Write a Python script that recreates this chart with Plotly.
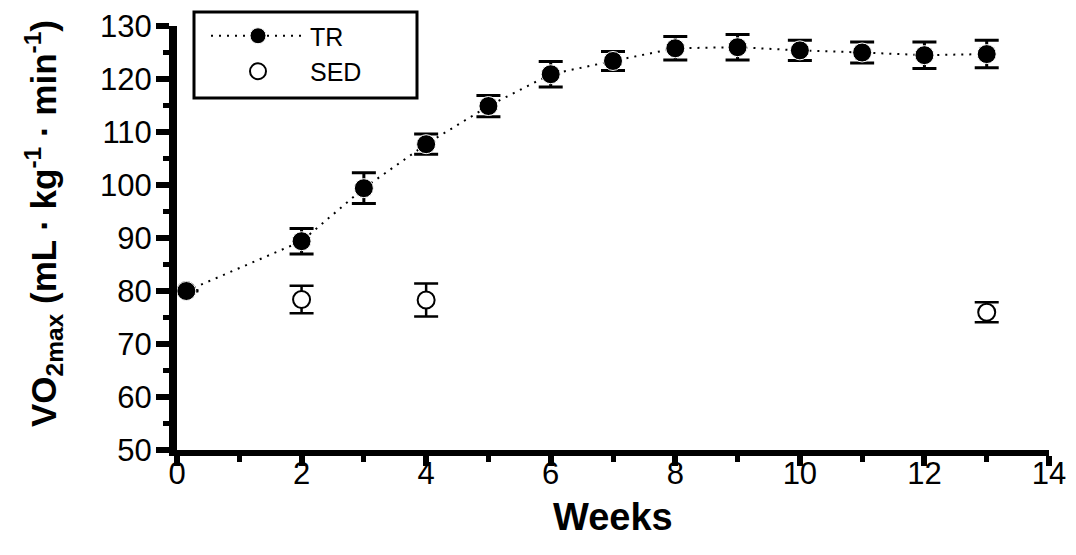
import plotly.graph_objects as go

# VO2max over a training programme, trained (TR) vs sedentary (SED) groups
tr_weeks = [0.15, 2, 3, 4, 5, 6, 7, 8, 9, 10, 11, 12, 13]
tr_vo2 = [80.0, 89.4, 99.4, 107.7, 114.9, 120.9, 123.4, 125.8, 126.0, 125.4, 125.0, 124.5, 124.7]
tr_sem = [None, 2.4, 2.9, 1.9, 2.0, 2.4, 1.8, 2.2, 2.4, 1.9, 2.0, 2.5, 2.6]

sed_weeks = [0.15, 2, 4, 13]
sed_vo2 = [80.1, 78.4, 78.3, 76.0]
sed_sem = [None, 2.6, 3.1, 1.9]

x_ticks = [0, 2, 4, 6, 8, 10, 12, 14]
y_ticks = [50, 60, 70, 80, 90, 100, 110, 120, 130]

FONT = "Liberation Sans, Arial, sans-serif"
L, R, T, B = 177, 27, 26, 105
W, H = 1076, 555
plot_w, plot_h = W - L - R, H - T - B


def px_to_paper_x(px):
    return (px - L) / plot_w


def px_to_paper_y(py):
    return (H - B - py) / plot_h


fig = go.Figure()

fig.add_trace(go.Scatter(
    x=sed_weeks, y=sed_vo2, name="SED", mode="markers",
    marker=dict(symbol="circle", size=17, color="white",
                line=dict(color="black", width=2)),
    error_y=dict(type="data", array=sed_sem, visible=True,
                 color="black", thickness=2.5, width=12),
    legendrank=2, cliponaxis=False,
))

fig.add_trace(go.Scatter(
    x=tr_weeks, y=tr_vo2, name="TR", mode="lines+markers",
    line=dict(color="black", width=2, dash="2px,6px"),
    marker=dict(symbol="circle", size=19, color="black",
                line=dict(color="white", width=1)),
    error_y=dict(type="data", array=tr_sem, visible=True,
                 color="black", thickness=3, width=12),
    legendrank=1, cliponaxis=False,
))

fig.update_layout(
    width=W, height=H,
    margin=dict(l=L, r=R, t=T, b=B),
    paper_bgcolor="white", plot_bgcolor="white",
    font=dict(family=FONT, color="black", size=30),
    showlegend=True,
    legend=dict(
        x=px_to_paper_x(206), y=px_to_paper_y(13),
        xanchor="left", yanchor="top",
        bgcolor="rgba(0,0,0,0)", borderwidth=0,
        font=dict(family=FONT, size=25, color="black"),
        itemwidth=94, tracegroupgap=0,
    ),
    shapes=[
        # frame around the legend
        dict(type="rect", xref="paper", yref="paper",
             x0=px_to_paper_x(194), x1=px_to_paper_x(417),
             y0=px_to_paper_y(98), y1=px_to_paper_y(12),
             line=dict(color="black", width=3), fillcolor="rgba(0,0,0,0)",
             layer="above"),
    ],
    annotations=[
        dict(text="<b>Weeks</b>", xref="paper", yref="paper",
             x=0.5, y=0, xanchor="center", yanchor="middle", yshift=-67,
             showarrow=False, font=dict(family=FONT, size=38, color="black")),
        dict(text="<b>VO<sub>2max</sub> (mL · kg<sup>-1</sup> · min<sup>-1</sup>)</b>",
             xref="paper", yref="paper", x=0, y=0.5,
             xanchor="center", yanchor="middle", xshift=-134, yshift=14,
             textangle=-90, showarrow=False,
             font=dict(family=FONT, size=35, color="black")),
    ],
)

fig.update_xaxes(
    range=[0, 14], tickvals=x_ticks, ticktext=[str(v) for v in x_ticks],
    showline=True, linecolor="black", linewidth=6,
    ticks="outside", ticklen=10, tickwidth=6, tickcolor="black",
    minor=dict(dtick=1, ticks="outside", ticklen=6, tickwidth=5, tickcolor="black"),
    showgrid=False, zeroline=False, automargin=False,
    tickfont=dict(family=FONT, size=31), ticklabelstandoff=-19,
)

fig.update_yaxes(
    range=[50, 130], tickvals=y_ticks, ticktext=[str(v) for v in y_ticks],
    showline=True, linecolor="black", linewidth=8,
    ticks="outside", ticklen=13, tickwidth=6, tickcolor="black",
    minor=dict(dtick=5, ticks="outside", ticklen=6, tickwidth=5, tickcolor="black"),
    showgrid=False, zeroline=False, automargin=False,
    tickfont=dict(family=FONT, size=31), ticklabelstandoff=-2,
)

fig.write_html("out.html")
